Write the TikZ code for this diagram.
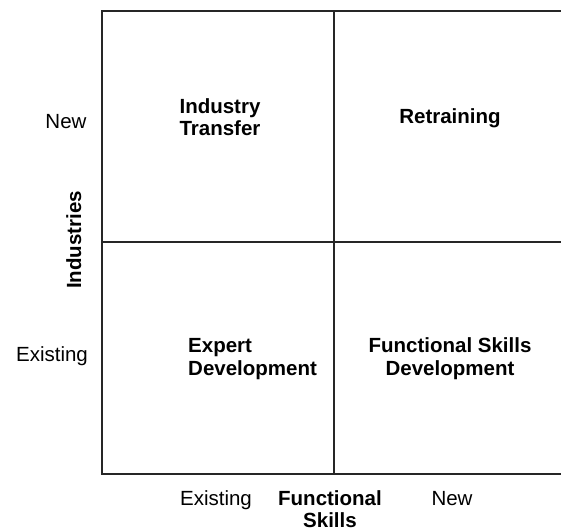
\documentclass[tikz,border=0pt]{standalone}
\usepackage{fontspec}
\setmainfont{Liberation Sans}
\usetikzlibrary{positioning}

\begin{document}
\begin{tikzpicture}[x=1pt,y=-1pt,
        axislabel/.style={inner sep=0pt,anchor=base,font=\fontsize{20.5}{24}\selectfont},
        cellname/.style={inner sep=0pt,anchor=base,align=center,font=\fontsize{20.5}{23}\selectfont\bfseries}]
        \useasboundingbox (0,0) rectangle (561,531);
        \clip (0,0) rectangle (561,531);
        % quadrant grid
        \draw[line width=1.2pt,black!85] (102,11) rectangle (565,474);
        \draw[line width=1.2pt,black!85] (334,11) -- (334,474);
        \draw[line width=1.2pt,black!85] (102,242) -- (565,242);
        % axis labels
        \node[axislabel] (newind) at (66,128) {New};
        \node[axislabel] (exind) at (52,361) {Existing};
        \node[axislabel,font=\fontsize{20.5}{24}\selectfont\bfseries,rotate=90] (industries) at (81,240) {Industries};
        \node[axislabel] (exskill) at (216,505) {Existing};
        \node[axislabel,align=center,font=\fontsize{20.5}{22}\selectfont\bfseries] (skills) at (330,527) {Functional\\Skills};
        \node[axislabel] (newskill) at (452,505) {New};
        % quadrant names (base = last line)
        \node[cellname,font=\fontsize{20.5}{22}\selectfont\bfseries] (transfer) at (220,135) {Industry\\Transfer};
        \node[cellname] (retrain) at (450,123) {Retraining};
        \node[cellname,anchor=base west,align=left] (expert) at (188,375) {Expert\\Development};
        \node[cellname] (funcdev) at (450,375) {Functional Skills\\Development};
\end{tikzpicture}
\end{document}
